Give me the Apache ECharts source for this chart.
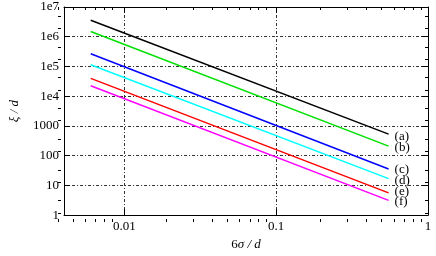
<!DOCTYPE html>
<html><head><meta charset="utf-8">
<script src="https://cdn.jsdelivr.net/npm/echarts@6/dist/echarts.min.js"></script>
<style>html,body{margin:0;padding:0;background:#fff}#c{width:436px;height:256px}</style>
</head><body><div id="c"></div>
<script>
const xPoints = [0.006, 0.55];
const seriesLabels = ['(a)', '(b)', '(c)', '(d)', '(e)', '(f)'];
const valuesA = [3.58e6, 531];
const valuesB = [1.5e6, 209];
const valuesC = [2.67e5, 35.7];
const valuesD = [1.14e5, 16.9];
const valuesE = [3.98e4, 5.6];
const valuesF = [2.25e4, 3.14];
const xTickLabels = [0.01, 0.1, 1];
const yTickLabels = [1, 10, 100, 1000, 1e4, 1e5, 1e6, 1e7];
const xMinorTicks = [0.004,0.005,0.006,0.007,0.008,0.009,0.02,0.03,0.04,0.05,0.06,0.07,0.08,0.09,0.2,0.3,0.4,0.5,0.6,0.7,0.8,0.9];
const yMinorTicks = [2,5,20,50,200,500,2000,5000,2e4,5e4,2e5,5e5,2e6,5e6];

const allValues = [valuesA, valuesB, valuesC, valuesD, valuesE, valuesF];
const colors = ['#000000', '#00e000', '#0000ff', '#00ffff', '#ff0000', '#ff00ff'];
const labelOffsets = [[0, 2], [0, 1], [0, 1], [0, 2], [0, -1], [0, 1]];

const serif = 'Liberation Serif';
const gridRect = {left: 58, right: 8, top: 7, bottom: 34};
const splitStyle = {show: true, lineStyle: {color: '#333', width: 1, type: [3, 2, 1, 2]}};
const xRange = {min: 0.004, max: 1};
const yRange = {min: 1, max: 1e7};

function yFmt(v) {
  const e = Math.round(Math.log10(v));
  return e >= 4 ? '1e' + e : String(Math.round(v));
}

const chart = echarts.init(document.getElementById('c'), null, {renderer: 'canvas'});
chart.setOption({
  animation: false,
  backgroundColor: '#fff',
  grid: [Object.assign({}, gridRect), Object.assign({}, gridRect)],
  xAxis: [
    Object.assign({type: 'log', logBase: 10, gridIndex: 0, position: 'bottom', splitNumber: 3,
      axisLine: {show: true, lineStyle: {color: '#000', width: 1}},
      axisTick: {show: true, inside: true, length: 6, lineStyle: {color: '#000'}},
      axisLabel: {show: true, customValues: xTickLabels, formatter: v => String(v), fontFamily: serif, fontSize: 13, color: '#000', margin: 5},
      splitLine: splitStyle,
      name: '6{i|σ / d}', nameLocation: 'middle', nameGap: 18,
      nameTextStyle: {fontFamily: serif, fontSize: 13, color: '#000', rich: {i: {fontFamily: serif, fontSize: 13, fontStyle: 'italic', color: '#000'}}}
    }, xRange),
    Object.assign({type: 'log', logBase: 10, gridIndex: 0, position: 'top', splitNumber: 3,
      axisLine: {show: true, lineStyle: {color: '#000', width: 1}},
      axisTick: {show: true, inside: true, length: 6, lineStyle: {color: '#000'}},
      axisLabel: {show: false}, splitLine: {show: false}}, xRange),
    Object.assign({type: 'log', logBase: 10, gridIndex: 1, position: 'bottom',
      axisLine: {show: false},
      axisTick: {show: true, inside: true, length: 3, customValues: xMinorTicks, lineStyle: {color: '#000'}},
      axisLabel: {show: false}, splitLine: {show: false}}, xRange),
    Object.assign({type: 'log', logBase: 10, gridIndex: 1, position: 'top',
      axisLine: {show: false},
      axisTick: {show: true, inside: true, length: 3, customValues: xMinorTicks, lineStyle: {color: '#000'}},
      axisLabel: {show: false}, splitLine: {show: false}}, xRange)
  ],
  yAxis: [
    Object.assign({type: 'log', logBase: 10, gridIndex: 0, position: 'left', splitNumber: 7,
      axisLine: {show: true, lineStyle: {color: '#000', width: 1}},
      axisTick: {show: true, inside: true, length: 6, lineStyle: {color: '#000'}},
      axisLabel: {show: true, customValues: yTickLabels, formatter: yFmt, fontFamily: serif, fontSize: 13, color: '#000', margin: 5},
      splitLine: splitStyle,
      name: 'ξ / d', nameLocation: 'middle', nameGap: 43, nameRotate: 90,
      nameTextStyle: {fontFamily: serif, fontSize: 13, fontStyle: 'italic', color: '#000'}
    }, yRange),
    Object.assign({type: 'log', logBase: 10, gridIndex: 0, position: 'right', splitNumber: 7,
      axisLine: {show: true, lineStyle: {color: '#000', width: 1}},
      axisTick: {show: true, inside: true, length: 6, lineStyle: {color: '#000'}},
      axisLabel: {show: false}, splitLine: {show: false}}, yRange),
    Object.assign({type: 'log', logBase: 10, gridIndex: 1, position: 'left',
      axisLine: {show: false},
      axisTick: {show: true, inside: true, length: 3, customValues: yMinorTicks, lineStyle: {color: '#000'}},
      axisLabel: {show: false}, splitLine: {show: false}}, yRange),
    Object.assign({type: 'log', logBase: 10, gridIndex: 1, position: 'right',
      axisLine: {show: false},
      axisTick: {show: true, inside: true, length: 3, customValues: yMinorTicks, lineStyle: {color: '#000'}},
      axisLabel: {show: false}, splitLine: {show: false}}, yRange)
  ],
  series: allValues.map((vals, i) => ({
    type: 'line',
    xAxisIndex: 0, yAxisIndex: 0,
    data: xPoints.map((x, j) => [x, vals[j]]),
    showSymbol: false,
    lineStyle: {color: colors[i], width: 1.5},
    itemStyle: {color: colors[i]},
    endLabel: {show: true, formatter: seriesLabels[i], fontFamily: serif, fontSize: 13, color: '#000', distance: 6, offset: labelOffsets[i]}
  }))
});
</script>
</body></html>
